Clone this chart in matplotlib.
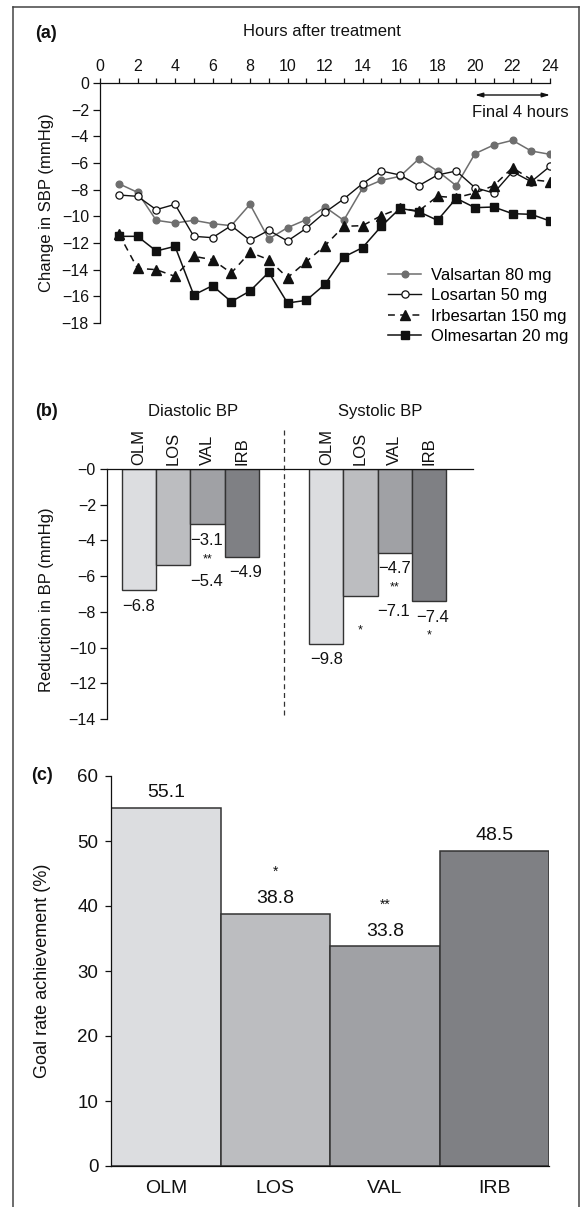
import numpy as np
import matplotlib
matplotlib.use("Agg")
import matplotlib.pyplot as plt
from matplotlib.lines import Line2D
from matplotlib.ticker import MultipleLocator, FuncFormatter

plt.rcParams['font.family'] = ['Liberation Sans', 'DejaVu Sans']

W, H = 586, 1207

# ---- panel (a): change in SBP over 24 h ----
hours = [1, 2, 3, 4, 5, 6, 7, 8, 9, 10, 11, 12,
         13, 14, 15, 16, 17, 18, 19, 20, 21, 22, 23, 24]
valsartan = [-7.55, -8.2, -10.3, -10.5, -10.3, -10.55, -10.7, -9.1, -11.7, -10.85, -10.25, -9.3,
             -10.3, -7.9, -7.3, -7.0, -5.7, -6.6, -7.7, -5.3, -4.65, -4.3, -5.1, -5.35]
losartan = [-8.4, -8.5, -9.5, -9.1, -11.5, -11.6, -10.7, -11.8, -11.05, -11.85, -10.9, -9.7,
            -8.7, -7.55, -6.6, -6.9, -7.7, -6.9, -6.6, -7.85, -8.25, -6.65, -7.4, -6.25]
irbesartan = [-11.3, -13.9, -14.0, -14.5, -13.0, -13.25, -14.25, -12.7, -13.25, -14.6, -13.4, -12.2,
              -10.75, -10.7, -9.95, -9.4, -9.6, -8.5, -8.6, -8.25, -7.7, -6.35, -7.25, -7.4]
olmesartan = [-11.5, -11.5, -12.6, -12.25, -15.9, -15.2, -16.4, -15.6, -14.2, -16.5, -16.3, -15.1,
              -13.05, -12.35, -10.75, -9.4, -9.65, -10.3, -8.65, -9.35, -9.3, -9.8, -9.85, -10.35]
series_names = ["Valsartan 80 mg", "Losartan 50 mg", "Irbesartan 150 mg", "Olmesartan 20 mg"]

# ---- panel (b): reduction in BP ----
drugs = ["OLM", "LOS", "VAL", "IRB"]
diastolic = [-6.8, -5.4, -3.1, -4.9]
systolic = [-9.8, -7.1, -4.7, -7.4]
diastolic_sig = ["", "", "**", ""]
systolic_sig = ["", "*", "**", "*"]

# ---- panel (c): goal rate achievement ----
goal_rate = [55.1, 38.8, 33.8, 48.5]
goal_sig = ["", "*", "**", ""]

bar_colors = ["#dcdde0", "#bcbdc0", "#a0a1a5", "#7f8084"]
edge = "#333333"
ink = "#111111"


def fx(px):
    return px / W


def fy(py):
    return 1 - py / H


fig = plt.figure(figsize=(W / 100, H / 100), dpi=100)

# outer frame (left, top, right)
for xs, ys in [([13, 13], [1207, 7]), ([13, 579], [7, 7]), ([579, 579], [7, 1207])]:
    fig.add_artist(Line2D([fx(x) for x in xs], [fy(y) for y in ys],
                          color="#444444", lw=1.1))

# ================= (a) =================
ax = fig.add_axes([fx(100), fy(323), fx(550) - fx(100), fy(83) - fy(323)])
ax.plot(hours, valsartan, color="#6e6e6e", lw=1.1, marker="o", ms=4.8,
        mfc="#6e6e6e", mec="#6e6e6e", label=series_names[0])
ax.plot(hours, losartan, color=ink, lw=1.0, marker="o", ms=5.2,
        mfc="white", mec=ink, mew=0.9, label=series_names[1])
ax.plot(hours, irbesartan, color=ink, lw=1.1, ls=(0, (4.5, 3.5)), marker="^",
        ms=7.5, mfc=ink, mec=ink, label=series_names[2])
ax.plot(hours, olmesartan, color=ink, lw=1.1, marker="s", ms=5.5,
        mfc=ink, mec=ink, label=series_names[3])

ax.set_xlim(0, 24)
ax.set_ylim(-18, 0)
ax.xaxis.tick_top()
ax.xaxis.set_major_locator(MultipleLocator(2))
ax.xaxis.set_minor_locator(MultipleLocator(1))
ax.yaxis.set_major_locator(MultipleLocator(2))
ax.tick_params(axis="x", which="both", length=3.6, width=0.9, pad=3.0,
               labelsize=11.5, colors=ink)
ax.tick_params(axis="y", length=5, width=0.9, pad=3, labelsize=11.5, colors=ink)
for s in ["bottom", "right"]:
    ax.spines[s].set_visible(False)
for s in ["top", "left"]:
    ax.spines[s].set_linewidth(0.9)
    ax.spines[s].set_color(ink)

ax.annotate("", xy=(24, -0.9), xytext=(20, -0.9),
            arrowprops=dict(arrowstyle="<|-|>,head_length=0.45,head_width=0.13",
                            color=ink, lw=1.0, shrinkA=0, shrinkB=0))
ax.text(22.4, -2.2, "Final 4 hours", ha="center", va="center", fontsize=12, color=ink)

ax.legend(loc="upper left", bbox_to_anchor=(0.64, 0.23), frameon=False, fontsize=12,
          borderpad=0, handlelength=2.0, handletextpad=0.6, labelspacing=0.33,
          borderaxespad=0)

fig.text(fx(322), fy(32), "Hours after treatment", ha="center", va="center",
         fontsize=12, color=ink)
fig.text(fx(47), fy(203), "Change in SBP (mmHg)", rotation=90, ha="center",
         va="center", fontsize=12, color=ink)
fig.text(fx(46), fy(33), "(a)", ha="center", va="center", fontsize=13,
         fontweight="bold", color=ink)

# ================= (b) =================
bw = 34.3  # px per bar
axb = fig.add_axes([fx(107), fy(719), fx(473) - fx(107), fy(469) - fy(719)])
x_dia = np.arange(len(drugs), dtype=float)
x_sys = x_dia + (326.3 - 139) / bw
axb.bar(x_dia, diastolic, width=1.0, color=bar_colors, edgecolor=edge, lw=1.0)
axb.bar(x_sys, systolic, width=1.0, color=bar_colors, edgecolor=edge, lw=1.0)
axb.set_xlim((107 - 139) / bw, (473 - 139) / bw)
axb.set_ylim(-14, 0)
axb.yaxis.set_major_locator(MultipleLocator(2))
axb.yaxis.set_major_formatter(FuncFormatter(lambda v, p: "\u2212%g" % abs(v)))
axb.set_xticks([])
axb.tick_params(axis="y", length=5, width=0.9, pad=3, labelsize=11.5, colors=ink)
for s in ["bottom", "right"]:
    axb.spines[s].set_visible(False)
for s in ["top", "left"]:
    axb.spines[s].set_linewidth(0.9)
    axb.spines[s].set_color(ink)

sep = (x_dia[-1] + x_sys[0]) / 2
axb.plot([sep, sep], [2.2, -13.9], color="#333333", lw=0.9, ls=(0, (4, 3)),
         clip_on=False)

# value label placement per drug: (ha, x shift in bar widths)
place = {"OLM": ("center", 0.0), "LOS": ("left", 0.48),
         "VAL": ("left", -0.5), "IRB": ("center", 0.1)}
for xs, vals, sigs, title in [(x_dia, diastolic, diastolic_sig, "Diastolic BP"),
                              (x_sys, systolic, systolic_sig, "Systolic BP")]:
    for x, v, s, d in zip(xs, vals, sigs, drugs):
        ha, dx = place[d]
        axb.annotate("\u2212%.1f" % abs(v), (x + dx, v), xytext=(0, -11.5),
                     textcoords="offset points", ha=ha, va="center",
                     fontsize=12, color=ink)
        if s:
            axb.annotate(s, (x, v), xytext=(0, -25), textcoords="offset points",
                         ha="center", va="center", fontsize=9, color=ink)
        axb.annotate(d, (x, 0), xytext=(0, 3), textcoords="offset points",
                     rotation=90, ha="center", va="bottom", fontsize=12,
                     color=ink)
    axb.text(np.mean(xs) + 0.08, 3.2, title, ha="center", va="center",
             fontsize=12, color=ink)

fig.text(fx(47), fy(600), "Reduction in BP (mmHg)", rotation=90, ha="center",
         va="center", fontsize=12, color=ink)
fig.text(fx(46), fy(412), "(b)", ha="center", va="center", fontsize=13,
         fontweight="bold", color=ink)

# ================= (c) =================
axc = fig.add_axes([fx(111), fy(1166), fx(549) - fx(111), fy(776) - fy(1166)])
xc = np.arange(len(drugs))
axc.bar(xc, goal_rate, width=1.0, color=bar_colors, edgecolor=edge, lw=1.1)
axc.set_xlim(-0.5, 3.5)
axc.set_ylim(0, 60)
axc.yaxis.set_major_locator(MultipleLocator(10))
axc.set_xticks(xc)
axc.set_xticklabels(drugs)
axc.tick_params(axis="x", length=0, pad=10, labelsize=14, colors=ink)
axc.tick_params(axis="y", length=4, width=0.9, pad=5, labelsize=13.5, colors=ink)
for s in ["top", "right"]:
    axc.spines[s].set_visible(False)
for s in ["bottom", "left"]:
    axc.spines[s].set_linewidth(0.9)
    axc.spines[s].set_color(ink)
for x, v, s in zip(xc, goal_rate, goal_sig):
    axc.annotate("%.1f" % v, (x, v), xytext=(0, 11), textcoords="offset points",
                 ha="center", va="center", fontsize=14, color=ink)
    if s:
        axc.annotate(s, (x, v), xytext=(0, 30), textcoords="offset points",
                     ha="center", va="center", fontsize=10, color=ink)

fig.text(fx(43), fy(971), "Goal rate achievement (%)", rotation=90, ha="center",
         va="center", fontsize=13, color=ink)
fig.text(fx(42), fy(776), "(c)", ha="center", va="center", fontsize=13,
         fontweight="bold", color=ink)

fig.savefig("out.png", dpi=100)
